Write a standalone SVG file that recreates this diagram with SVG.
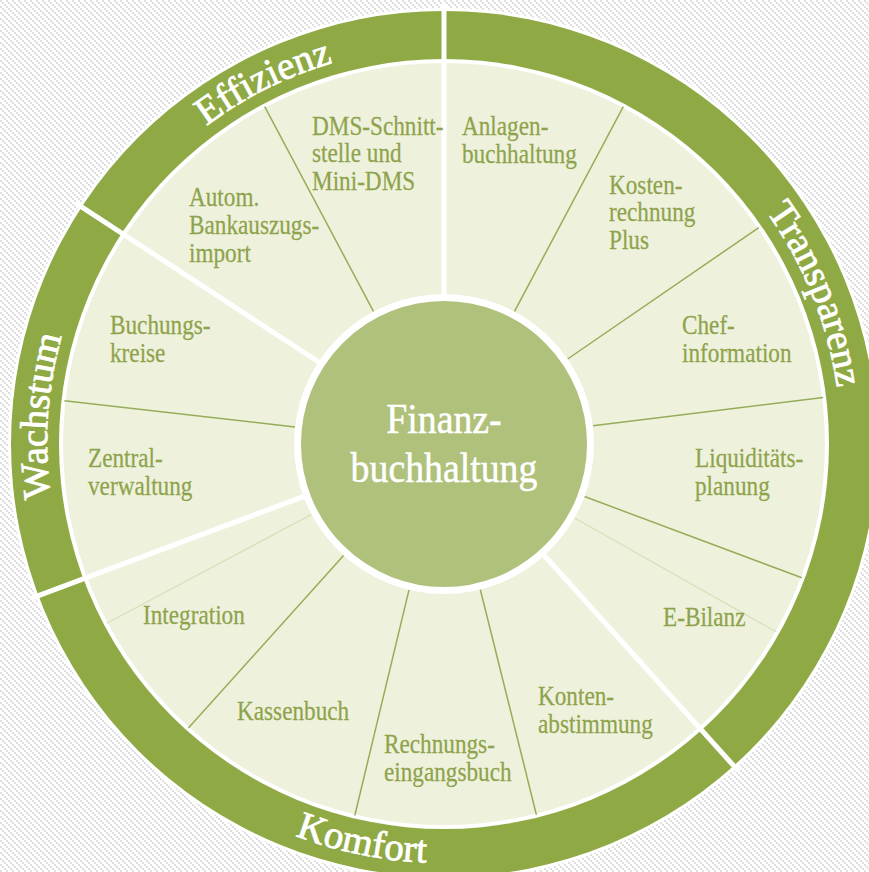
<svg xmlns="http://www.w3.org/2000/svg" width="869" height="872" viewBox="0 0 869 872">
<defs>
<pattern id="chk" width="6" height="6" patternUnits="userSpaceOnUse">
<rect width="6" height="6" fill="#ffffff"/>
<rect x="0" y="0" width="2" height="2" fill="#dedede"/>
<rect x="2" y="2" width="2" height="2" fill="#dedede"/>
<rect x="4" y="4" width="2" height="2" fill="#dedede"/>
</pattern>
<path id="cw" d="M444,841 A397,397 0 1 1 444,47 A397,397 0 1 1 444,841"/>
<path id="ccw" d="M25,444 A419,419 0 0 0 863,444"/>
<style>
.lbl{font-family:"Liberation Serif","Times New Roman",serif;font-size:27px;fill:#8ea34c;stroke:#8ea34c;stroke-width:0.25}
.ring{font-family:"Liberation Serif","Times New Roman",serif;font-size:39px;fill:#ffffff;stroke:#ffffff;stroke-width:0.8}
.ctr{font-family:"Liberation Serif","Times New Roman",serif;font-size:42px;fill:#ffffff;stroke:#ffffff;stroke-width:0.5}
.thin{stroke:#97ac58;stroke-width:1.5;fill:none}
.faint{stroke:#d6dfb8;stroke-width:1.2;fill:none}
.thick{stroke:#ffffff;stroke-width:5;fill:none}
</style>
</defs>
<rect width="869" height="872" fill="url(#chk)"/>
<g id="wheel">
<circle cx="444" cy="444" r="436" fill="#ffffff"/>
<circle cx="444" cy="444" r="433" fill="#8faa45"/>
<circle cx="444" cy="444" r="385" fill="#ffffff"/>
<circle cx="444" cy="444" r="381" fill="#eef2dc"/>
</g>
<g id="connectors">
<line class="thin" x1="373.6" y1="311.6" x2="264.7" y2="106.7"/>
<line class="thin" x1="514.4" y1="311.6" x2="623.3" y2="106.7"/>
<line class="thin" x1="567.6" y1="359.0" x2="758.8" y2="227.6"/>
<line class="thin" x1="592.9" y1="425.7" x2="823.1" y2="397.4"/>
<line class="thin" x1="584.5" y1="496.5" x2="801.8" y2="577.8"/>
<line class="faint" x1="574.6" y1="517.9" x2="776.5" y2="632.1"/>
<line class="thin" x1="480.3" y1="589.5" x2="536.4" y2="814.7"/>
<line class="thin" x1="409.0" y1="589.9" x2="354.8" y2="815.5"/>
<line class="thin" x1="343.6" y1="555.5" x2="188.4" y2="727.9"/>
<line class="faint" x1="311.6" y1="514.4" x2="106.7" y2="623.3"/>
<line class="thin" x1="295.0" y1="427.0" x2="64.4" y2="400.8"/>
<line class="thick" x1="444" y1="296" x2="444" y2="4"/>
<line class="thick" x1="320.2" y1="363.0" x2="75.8" y2="203.1"/>
<line class="thick" x1="305.4" y1="495.8" x2="31.8" y2="598.1"/>
<line class="thick" x1="543.0" y1="554.0" x2="738.4" y2="771.0"/>
</g>
<g id="ring-labels">
<text class="ring"><textPath href="#cw" startOffset="651" text-anchor="middle">Wachstum</textPath></text>
<text class="ring"><textPath href="#cw" startOffset="1063" text-anchor="middle">Effizienz</textPath></text>
<text class="ring"><textPath href="#cw" startOffset="1718" text-anchor="middle">Transparenz</textPath></text>
<text class="ring"><textPath href="#ccw" startOffset="573" text-anchor="middle">Komfort</textPath></text>
</g>
<g id="center">
<circle cx="444" cy="444" r="146.5" fill="#afc17a" stroke="#ffffff" stroke-width="7"/>
<g transform="translate(444,433) scale(0.9 1)">
<text class="ctr" text-anchor="middle" x="0" y="0">Finanz-</text>
<text class="ctr" text-anchor="middle" x="0" y="49">buchhaltung</text>
</g>
</g>
<g id="n-dms" transform="translate(312,135) scale(0.86 1)"><text class="lbl"><tspan x="0" y="0">DMS-Schnitt-</tspan><tspan x="0" y="27.5">stelle und</tspan><tspan x="0" y="55">Mini-DMS</tspan></text></g>
<g id="n-anlagen" transform="translate(462,135) scale(0.86 1)"><text class="lbl"><tspan x="0" y="0">Anlagen-</tspan><tspan x="0" y="28">buchhaltung</tspan></text></g>
<g id="n-bank" transform="translate(189,206) scale(0.86 1)"><text class="lbl"><tspan x="0" y="0">Autom.</tspan><tspan x="0" y="28">Bankauszugs-</tspan><tspan x="0" y="56">import</tspan></text></g>
<g id="n-kosten" transform="translate(609,194) scale(0.86 1)"><text class="lbl"><tspan x="0" y="0">Kosten-</tspan><tspan x="0" y="27.5">rechnung</tspan><tspan x="0" y="55">Plus</tspan></text></g>
<g id="n-buchungskreise" transform="translate(110,334) scale(0.86 1)"><text class="lbl"><tspan x="0" y="0">Buchungs-</tspan><tspan x="0" y="28">kreise</tspan></text></g>
<g id="n-chef" transform="translate(682,334) scale(0.86 1)"><text class="lbl"><tspan x="0" y="0">Chef-</tspan><tspan x="0" y="28">information</tspan></text></g>
<g id="n-zentral" transform="translate(88,467) scale(0.86 1)"><text class="lbl"><tspan x="0" y="0">Zentral-</tspan><tspan x="0" y="28">verwaltung</tspan></text></g>
<g id="n-liquiditaet" transform="translate(695,467) scale(0.86 1)"><text class="lbl"><tspan x="0" y="0">Liquiditäts-</tspan><tspan x="0" y="28">planung</tspan></text></g>
<g id="n-integration" transform="translate(143,624) scale(0.86 1)"><text class="lbl" x="0" y="0">Integration</text></g>
<g id="n-ebilanz" transform="translate(663,626) scale(0.86 1)"><text class="lbl" x="0" y="0">E-Bilanz</text></g>
<g id="n-kassenbuch" transform="translate(237,720) scale(0.86 1)"><text class="lbl" x="0" y="0">Kassenbuch</text></g>
<g id="n-konten" transform="translate(538,705) scale(0.86 1)"><text class="lbl"><tspan x="0" y="0">Konten-</tspan><tspan x="0" y="28">abstimmung</tspan></text></g>
<g id="n-rechnung" transform="translate(384,753) scale(0.86 1)"><text class="lbl"><tspan x="0" y="0">Rechnungs-</tspan><tspan x="0" y="28">eingangsbuch</tspan></text></g>
</svg>
